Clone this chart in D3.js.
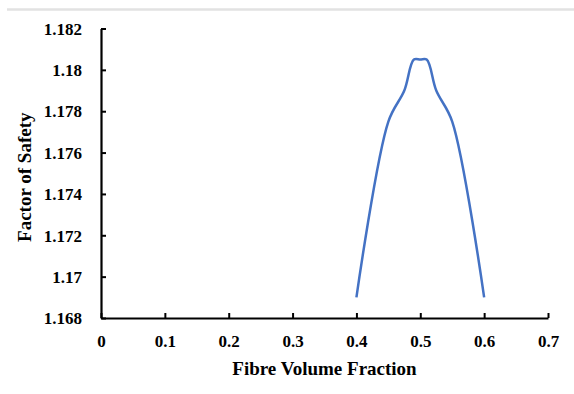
<!DOCTYPE html>
<html>
<head>
<meta charset="utf-8">
<script src="https://cdn.jsdelivr.net/npm/d3@7"></script>
<style>
  html, body { margin: 0; padding: 0; background: #fff; }
  svg { display: block; }
  text { font-family: "Liberation Serif", "Times New Roman", serif; font-weight: bold; fill: #000; }
</style>
</head>
<body>
<svg id="chart" width="574" height="394"></svg>
<script>
// Data
const fibreVolumeFraction = [0.4, 0.45, 0.475, 0.49, 0.5, 0.51, 0.525, 0.55, 0.6];
const factorOfSafety      = [1.169, 1.1775, 1.179, 1.1805, 1.1805, 1.1805, 1.179, 1.1775, 1.169];
const xTickValues = [0, 0.1, 0.2, 0.3, 0.4, 0.5, 0.6, 0.7];
const yTickValues = [1.168, 1.17, 1.172, 1.174, 1.176, 1.178, 1.18, 1.182];
const xTitle = "Fibre Volume Fraction";
const yTitle = "Factor of Safety";

const svg = d3.select("#chart");
const W = 574, H = 394;
const mLeft = 101, mRight = 548, mTop = 28.5, mBottom = 318;

// top separator line
svg.append("line")
  .attr("x1", 7).attr("x2", W).attr("y1", 9.5).attr("y2", 9.5)
  .attr("stroke", "#e2e2e2").attr("stroke-width", 2.5);

const x = d3.scaleLinear().domain([0, 0.7]).range([mLeft, mRight]);
const y = d3.scaleLinear().domain([1.168, 1.182]).range([mBottom, mTop]);

const fmt = d => String(+d.toFixed(3));

// X axis
const xAxis = svg.append("g")
  .attr("transform", `translate(0,${mBottom})`)
  .call(d3.axisBottom(x).tickValues(xTickValues).tickSizeInner(-5).tickSizeOuter(0).tickPadding(0).tickFormat(fmt));
xAxis.select(".domain").attr("stroke", "#000").attr("stroke-width", 2.2);
xAxis.selectAll(".tick line").attr("stroke", "#000").attr("stroke-width", 2);
xAxis.selectAll(".tick text")
  .attr("y", 0).attr("dy", null)
  .attr("transform", "translate(0,29)")
  .style("font-size", "17px");

// Y axis
const yAxis = svg.append("g")
  .attr("transform", `translate(${mLeft},0)`)
  .call(d3.axisLeft(y).tickValues(yTickValues).tickSizeInner(-5).tickSizeOuter(0).tickPadding(0).tickFormat(fmt));
yAxis.select(".domain").attr("stroke", "#000").attr("stroke-width", 2.2);
yAxis.selectAll(".tick line").attr("stroke", "#000").attr("stroke-width", 2);
yAxis.selectAll(".tick text")
  .attr("x", -19).attr("dy", "0.34em")
  .style("font-size", "17px");

// Axis titles
svg.append("text")
  .attr("x", (mLeft + mRight) / 2).attr("y", 375)
  .attr("text-anchor", "middle")
  .style("font-size", "19px")
  .text(xTitle);

svg.append("text")
  .attr("transform", `translate(31,${(mTop + mBottom) / 2 + 4}) rotate(-90)`)
  .attr("text-anchor", "middle")
  .style("font-size", "19px")
  .text(yTitle);

// Line
const line = d3.line()
  .x((d, i) => x(fibreVolumeFraction[i]))
  .y(d => y(d))
  .curve(d3.curveCatmullRom.alpha(0.5));

svg.append("path")
  .datum(factorOfSafety)
  .attr("fill", "none")
  .attr("stroke", "#4472C4")
  .attr("stroke-width", 2.5)
  .attr("stroke-linejoin", "round")
  .attr("d", line);
</script>
</body>
</html>
